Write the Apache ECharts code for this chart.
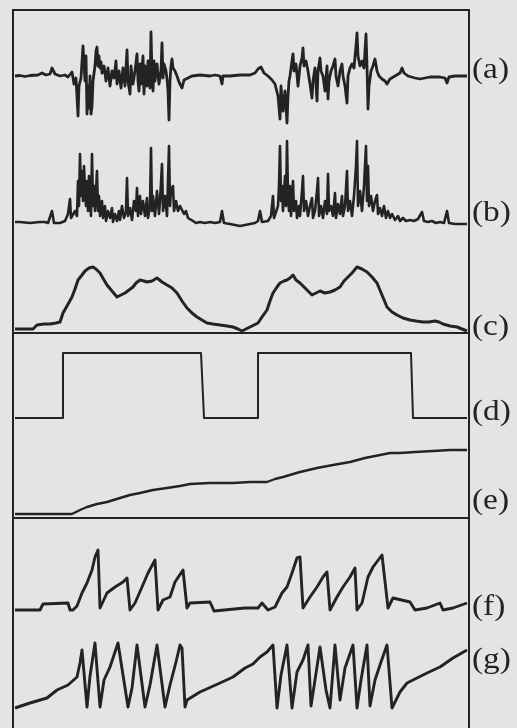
<!DOCTYPE html>
<html>
<head>
<meta charset="utf-8">
<script src="https://cdn.jsdelivr.net/npm/echarts@6/dist/echarts.min.js"></script>
<style>
  html, body { margin: 0; padding: 0; background: #e4e4e4; }
  #chart { width: 517px; height: 728px; }
</style>
</head>
<body>
<div id="chart"></div>
<script>
// ---- Data: [time, amplitude] pairs read from the recording ----
const traceA = [[15,0],[20,0.5],[25,-0.5],[30,0.5],[38,1],[42,3],[46,1],[50,2],[52,8],[55,2],[60,0],[65,1],[68,-1],[70,-3],[72,4],[74,-8],[76,-2],[78,-40],[79,-10],[81,-2],[83,30],[84,32],[85,-5],[86,20],[87,-38],[88,-10],[89,-32],[90,0],[91,-38],[92,-30],[93,-5],[95,10],[96,25],[97,29],[98,10],[99,20],[100,8],[101,14],[102,3],[104,10],[106,-5],[108,8],[110,-10],[112,5],[114,-2],[116,15],[117,-8],[119,5],[121,-12],[123,8],[125,-10],[127,26],[128,-5],[130,-18],[131,10],[133,-8],[135,5],[137,22],[138,-5],[139,-15],[140,12],[141,-8],[143,20],[144,-18],[145,10],[147,-10],[148,15],[150,-12],[151,44],[152,0],[153,-15],[154,15],[155,-5],[157,12],[159,-8],[161,5],[162,33],[163,-2],[164,12],[166,5],[167,-3],[168,-15],[169,-44],[170,-5],[171,10],[172,17],[173,8],[175,5],[177,0],[179,-6],[182,-12],[184,-4],[188,-2],[192,0],[200,1],[210,0],[215,1],[220,0],[222,-8],[223,0],[230,0],[240,1],[250,1],[255,3],[258,7],[261,9],[264,3],[268,0],[272,-4],[275,-8],[278,-20],[280,-43],[281,-10],[283,-35],[285,-15],[287,-47],[288,-20],[289,-5],[290,0],[292,15],[293,22],[294,5],[296,12],[298,-10],[300,10],[302,18],[303,28],[304,10],[306,15],[308,5],[310,-8],[312,-22],[313,-5],[315,8],[317,-25],[318,5],[320,18],[321,5],[323,0],[325,-15],[327,10],[328,-23],[329,-5],[331,5],[333,10],[335,17],[336,0],[338,-10],[340,5],[342,12],[343,0],[345,-10],[347,-27],[348,0],[350,8],[352,12],[354,8],[356,30],[357,43],[358,20],[360,10],[362,15],[364,8],[366,42],[367,10],[368,-33],[369,-10],[371,5],[373,10],[375,17],[377,5],[379,0],[382,-3],[385,-5],[387,-8],[390,-3],[395,0],[400,3],[402,8],[404,3],[408,0],[415,-2],[420,-3],[422,-5],[425,-2],[430,-1],[440,-1],[445,-2],[447,-7],[449,-1],[455,0],[467,0]];

const traceB = [[15,4],[20,4],[30,3],[40,4],[45,4],[48,3],[50,5],[52,15],[54,3],[60,3],[65,5],[68,12],[70,27],[71,8],[73,6],[75,15],[77,10],[78,45],[79,20],[80,72],[81,30],[82,55],[83,25],[84,60],[85,35],[86,20],[87,45],[88,15],[89,50],[90,25],[91,10],[92,72],[93,20],[94,40],[95,15],[96,35],[97,55],[98,15],[99,30],[100,10],[102,25],[103,8],[105,20],[106,5],[108,15],[110,8],[112,18],[113,4],[115,12],[117,5],[119,15],[120,6],[122,20],[124,8],[126,15],[127,48],[128,10],[130,18],[132,6],[134,25],[136,15],[137,38],[138,10],[140,30],[141,12],[143,25],[145,10],[147,28],[148,8],[150,20],[151,78],[152,15],[153,30],[155,10],[157,35],[159,12],[160,25],[162,62],[163,15],[165,30],[167,10],[169,80],[170,20],[171,35],[173,40],[174,15],[176,25],[178,15],[180,20],[182,22],[184,12],[186,15],[188,8],[190,10],[193,5],[196,3],[200,4],[205,3],[210,4],[215,3],[220,4],[222,15],[224,3],[230,2],[240,0],[245,1],[250,2],[255,3],[258,5],[260,15],[262,4],[268,5],[271,10],[273,30],[274,8],[276,10],[278,20],[279,40],[280,80],[281,25],[282,40],[283,15],[285,50],[286,20],[287,85],[288,30],[289,15],[290,40],[291,10],[293,45],[294,15],[296,25],[297,8],[299,20],[300,10],[302,35],[303,50],[304,15],[306,25],[308,10],[310,20],[312,28],[313,8],[315,15],[317,35],[318,48],[319,10],[321,20],[323,8],[325,25],[327,12],[328,52],[329,15],[331,20],[333,10],[335,33],[336,8],[338,22],[340,12],[342,30],[343,10],[345,20],[347,55],[348,15],[350,25],[352,10],[354,30],[356,60],[357,85],[358,20],[360,35],[362,15],[364,40],[366,80],[367,25],[368,60],[369,20],[371,30],[373,15],[375,25],[377,31],[378,12],[380,18],[382,10],[384,20],[386,8],[388,15],[390,8],[392,12],[395,6],[398,10],[400,5],[403,8],[406,5],[410,6],[414,5],[418,7],[422,14],[424,5],[428,4],[432,5],[436,3],[440,4],[444,3],[447,15],[449,3],[455,2],[467,2]];

const traceC = [[15,4],[25,4],[33,4],[37,8],[44,9],[50,9],[56,10],[60,11],[63,20],[67,27],[72,36],[75,44],[78,53],[82,58],[85,62],[89,65],[93,66],[96,64],[100,60],[104,53],[107,48],[112,42],[117,36],[121,38],[125,40],[129,43],[133,46],[136,50],[140,53],[144,52],[147,51],[152,52],[157,55],[162,51],[167,48],[172,45],[177,40],[182,32],[187,25],[192,20],[197,16],[202,13],[207,10],[213,9],[220,8],[227,7],[233,6],[238,4],[242,2],[246,4],[250,6],[254,8],[258,10],[262,16],[267,23],[270,32],[273,40],[277,46],[280,50],[284,52],[287,53],[290,55],[293,58],[296,53],[300,50],[306,44],[312,38],[316,40],[320,42],[325,40],[330,41],[335,43],[340,46],[344,52],[347,55],[352,60],[357,66],[362,64],[367,61],[372,56],[377,50],[382,38],[387,26],[392,21],[397,18],[403,15],[410,13],[416,12],[423,11],[429,11],[435,12],[439,11],[443,9],[450,7],[457,6],[462,4],[467,2]];

const traceD = [[15,0],[63,0],[63,1],[201,1],[204,0],[258,0],[258,1],[411,1],[413,0],[467,0]];

const traceE = [[15,4],[40,4],[72,4],[80,8],[87,11],[97,14],[107,16],[120,20],[130,23],[140,25],[153,28],[167,30],[180,32],[190,34],[210,35],[233,35],[250,36],[267,36],[275,39],[283,41],[300,46],[317,50],[333,53],[350,56],[365,60],[380,63],[390,65],[400,65],[415,66],[433,67],[450,68],[467,68]];

const traceF = [[15,0],[40,0],[43,6],[68,7],[70,0],[73,0],[77,4],[82,17],[87,27],[92,40],[95,53],[98,60],[100,2],[102,0],[107,17],[115,23],[123,28],[127,32],[130,0],[135,7],[142,23],[148,37],[155,50],[158,0],[163,10],[170,13],[175,28],[183,40],[187,2],[190,7],[210,8],[214,-1],[245,2],[258,2],[262,7],[268,0],[270,0],[275,3],[282,17],[287,23],[292,37],[297,52],[300,53],[303,2],[310,13],[317,23],[323,33],[327,38],[330,0],[337,13],[343,23],[350,33],[355,42],[357,0],[362,7],[368,33],[373,43],[382,55],[388,2],[393,12],[410,8],[415,0],[427,2],[440,7],[443,0],[453,2],[467,7]];

const traceG = [[15,0],[30,5],[47,10],[57,18],[68,23],[77,31],[80,45],[82,58],[87,1],[90,32],[95,65],[100,1],[104,28],[110,41],[118,65],[128,1],[132,20],[137,63],[145,1],[150,23],[157,63],[165,1],[170,23],[176,46],[180,63],[182,60],[185,1],[187,8],[200,16],[220,25],[233,31],[245,40],[253,44],[260,51],[267,56],[273,63],[277,0],[281,33],[287,63],[292,0],[297,36],[303,48],[308,63],[311,2],[315,28],[320,61],[326,18],[330,0],[335,63],[340,8],[345,40],[353,63],[357,0],[361,28],[367,63],[370,2],[375,28],[381,46],[387,63],[392,0],[400,16],[407,25],[427,35],[440,41],[453,50],[467,58]];

const labels = ['(a)', '(b)', '(c)', '(d)', '(e)', '(f)', '(g)'];

// ---- Layout (offsets of each trace inside its panel, label positions) ----
const T_MIN = 13, T_MAX = 469;
const panels = [
  { top: 10, height: 323 },
  { top: 333, height: 185 },
  { top: 518, height: 240 }   // open at the bottom: its lower edge lies below the page
];
const D_LEVEL = 65;
const traces = [
  { data: traceA, panel: 0, offset: 257, width: 2.8 },
  { data: traceB, panel: 0, offset: 107, width: 2.6 },
  { data: traceC, panel: 0, offset: 0, width: 3 },
  { data: traceD.map(([t, v]) => [t, v * D_LEVEL]), panel: 1, offset: 100, width: 2 },
  { data: traceE, panel: 1, offset: 0, width: 2.4 },
  { data: traceF, panel: 2, offset: 148, width: 2.9 },
  { data: traceG, panel: 2, offset: 50, width: 2.9 }
];
const labelY = [70, 213, 327, 412, 501, 607, 660];
const INK = '#232323';

const chart = echarts.init(document.getElementById('chart'), null, { renderer: 'canvas' });
chart.setOption({
  backgroundColor: '#e4e4e4',
  animation: false,
  grid: panels.map(p => ({
    left: T_MIN, right: 517 - T_MAX, top: p.top, height: p.height,
    outerBoundsMode: 'none', containLabel: false,
    show: true, borderColor: INK, borderWidth: 2, backgroundColor: 'transparent'
  })),
  xAxis: panels.map((p, i) => ({
    type: 'value', gridIndex: i, min: T_MIN, max: T_MAX, show: false
  })),
  yAxis: panels.map((p, i) => ({
    type: 'value', gridIndex: i, min: 0, max: p.height, show: false
  })),
  series: traces.map(tr => ({
    type: 'line',
    xAxisIndex: tr.panel, yAxisIndex: tr.panel,
    data: tr.data.map(([t, v]) => [t, v + tr.offset]),
    symbol: 'none',
    lineStyle: { color: INK, width: tr.width, join: 'round' },
    silent: true
  })),
  graphic: labels.map((txt, i) => ({
    type: 'text', x: 472, y: labelY[i], scaleX: 1.15,
    style: {
      text: txt, fontSize: 29, fontFamily: '"Liberation Serif", "DejaVu Serif", serif',
      fill: INK, verticalAlign: 'middle', align: 'left'
    }
  }))
});
</script>
</body>
</html>
